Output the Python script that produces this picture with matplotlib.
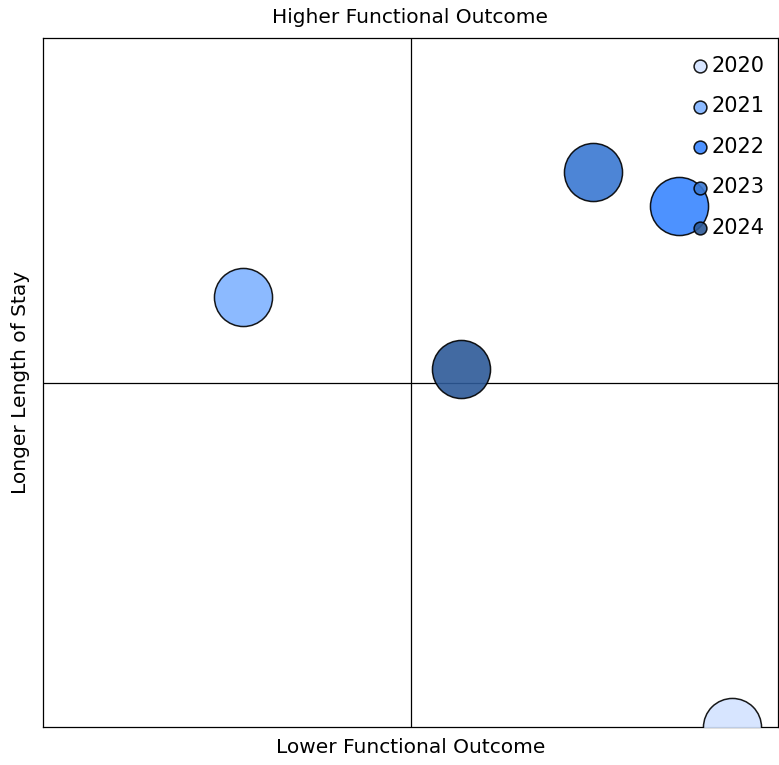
import matplotlib.pyplot as plt

# Data (quadrant chart, 0..10 each way, midlines at 5)
years = ['2020', '2021', '2022', '2023', '2024']
outcome = [9.37, 2.72, 8.65, 7.48, 5.69]      # x: functional outcome
stay = [0.0, 6.24, 7.56, 8.06, 5.20]          # y: length of stay
colors = ['#d3e3ff', '#80b3ff', '#3a86ff', '#3a78d2', '#2d5a98']

plt.rcParams['font.family'] = ['DejaVu Sans']

fig = plt.figure(figsize=(7.79, 7.65), dpi=100)
ax = fig.add_axes([43 / 779, 38 / 765, 735 / 779, 689 / 765])

ax.set_xlim(0, 10)
ax.set_ylim(0, 10)

# quadrant lines
ax.axvline(5, color='black', linewidth=0.9, zorder=1)
ax.axhline(5, color='black', linewidth=0.9, zorder=1)

for yr, x, y, c in zip(years, outcome, stay, colors):
    ax.scatter(x, y, s=1750, color=c, alpha=0.9, edgecolor='black',
               linewidth=1.1, zorder=3, label=yr)

ax.set_xticks([])
ax.set_yticks([])
for sp in ax.spines.values():
    sp.set_linewidth(0.9)

ax.set_title('Higher Functional Outcome', fontsize=14.5, pad=11)
ax.set_xlabel('Lower Functional Outcome', fontsize=14.5, labelpad=8)
ax.set_ylabel('Longer Length of Stay', fontsize=14.5, labelpad=9)

leg = ax.legend(loc='upper right', frameon=False, fontsize=15,
                markerscale=0.3, handlelength=0.8, handletextpad=0.15,
                labelspacing=0.985, borderaxespad=0.45,
                bbox_to_anchor=(1.006, 1.0))
for h in leg.legend_handles:
    h.set_sizes([85])
    h.set_alpha(0.9)

fig.savefig('out.png', dpi=100)
